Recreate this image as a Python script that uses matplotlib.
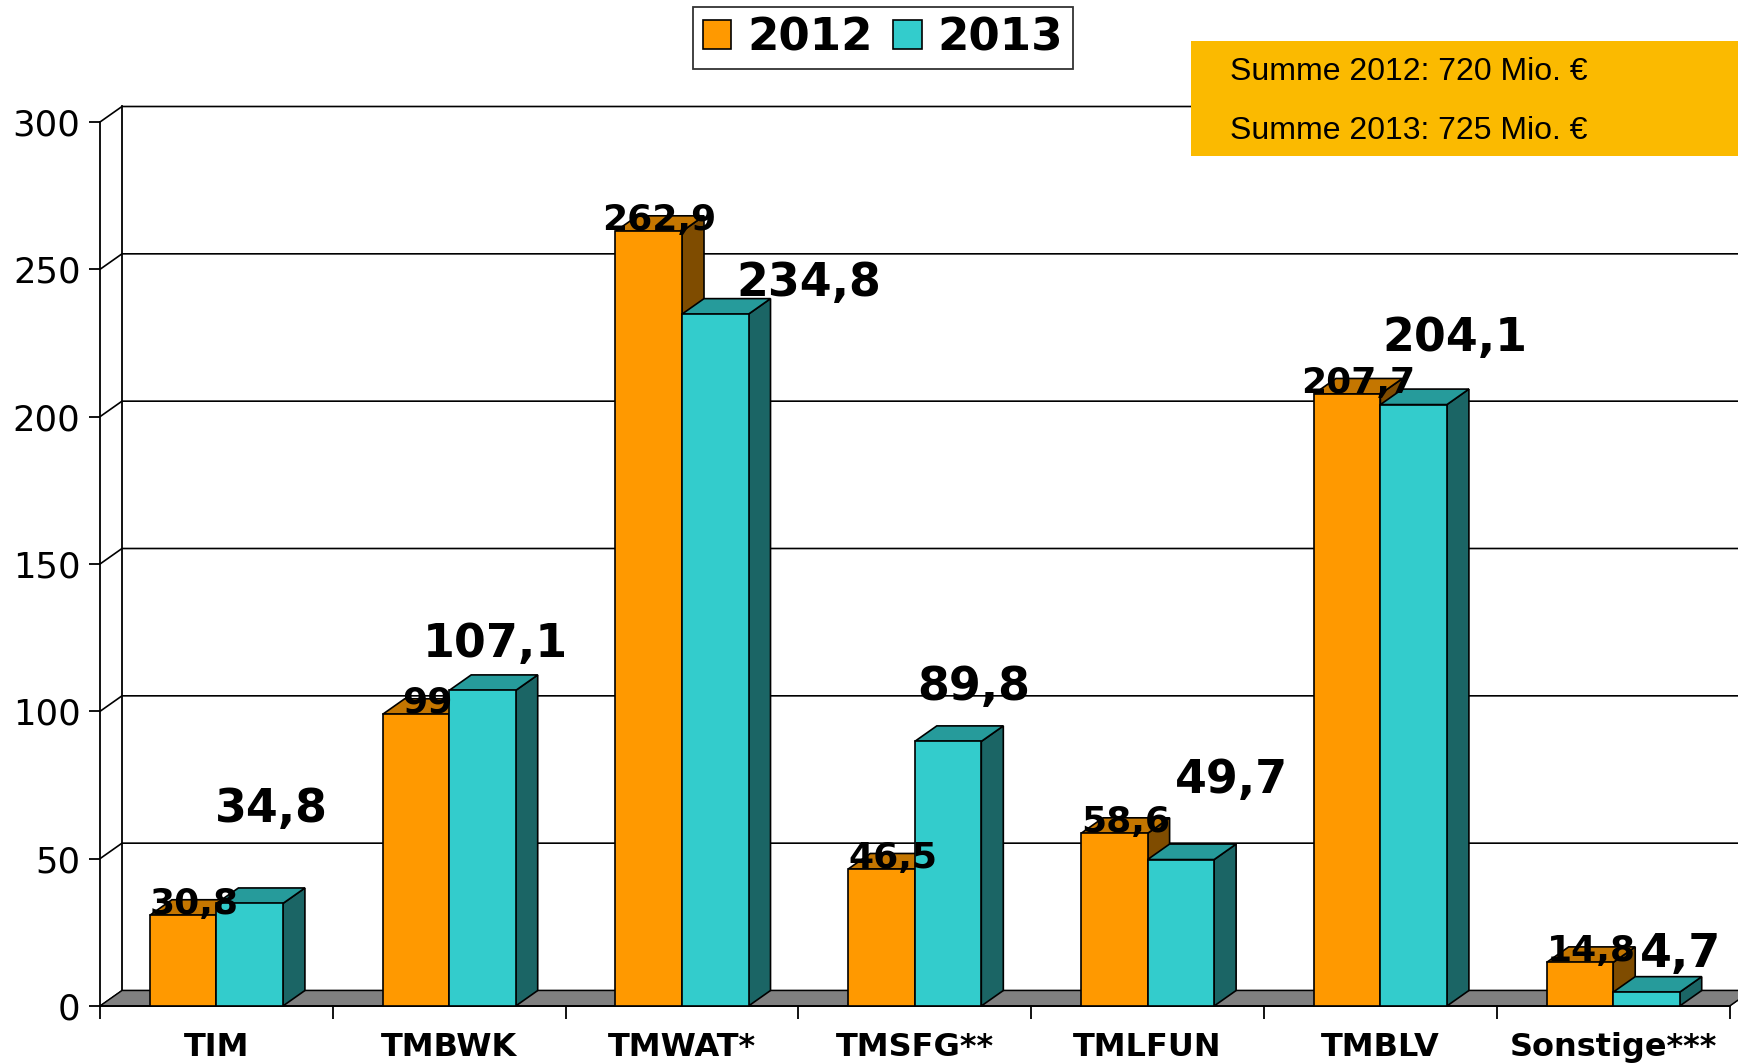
import numpy as np
import matplotlib
matplotlib.use("Agg")
import matplotlib.pyplot as plt
from matplotlib.patches import Polygon, Rectangle, Patch

# data
categories = ["TIM", "TMBWK", "TMWAT*", "TMSFG**", "TMLFUN", "TMBLV", "Sonstige***"]
v2012 = [30.8, 99, 262.9, 46.5, 58.6, 207.7, 14.8]
v2013 = [34.8, 107.1, 234.8, 89.8, 49.7, 204.1, 4.7]
lab2012 = ["30,8", "99", "262,9", "46,5", "58,6", "207,7", "14,8"]
lab2013 = ["34,8", "107,1", "234,8", "89,8", "49,7", "204,1", "4,7"]
# hand placed 2013 labels (x shift in categories, y shift in values)
lab2013_dx = [0.095, 0.057, 0.40, 0.109, 0.219, 0.176, 0.147]
lab2013_dy = [27.6, 11.3, 6.2, 14.0, 22.5, 18.1, 8.5]
summen = ["Summe 2012: 720 Mio. \u20ac", "Summe 2013: 725 Mio. \u20ac"]

c_or = ("#FF9900", "#C47600", "#7F4C00")   # front, top, side
c_cy = ("#33CCCC", "#269B9B", "#1B6565")

W, H = 1738, 1064
fig = plt.figure(figsize=(W/100, H/100), dpi=100)
# axes: left edge = front y axis, bottom = value 0, top = value 300
x0, y0, x1, y1 = 100, 1006, 1738, 122
ax = fig.add_axes([x0/W, 1 - y0/H, (x1-x0)/W, (y0-y1)/H])
cat_w = 232.8
ax.set_xlim(0, (x1-x0)/cat_w)
ax.set_ylim(0, 300)

dx = 22/cat_w          # depth offset in category units
dy = 15.5*300/(y0-y1)  # depth offset in value units
bw = 0.2857

for s in ["top", "right"]:
    ax.spines[s].set_visible(False)
ax.spines["left"].set_bounds(0, 300)
ax.spines["bottom"].set_bounds(0, 7)
ax.spines["left"].set_linewidth(1.3)
ax.spines["bottom"].set_linewidth(1.3)

ax.set_yticks(np.arange(0, 301, 50))
ax.tick_params(axis="y", length=8, width=1.3, pad=6, labelsize=25.5)
ax.set_xticks(np.arange(0, 8))
ax.set_xticklabels([])
ax.tick_params(axis="x", which="major", length=9, width=1.3)
ax.set_xticks(np.arange(7) + 0.5, minor=True)
ax.set_xticklabels(categories, minor=True, fontsize=23, fontweight="bold")
ax.tick_params(axis="x", which="minor", length=0, pad=19)

xr = ax.get_xlim()[1] + 0.2

# back wall + grid
ax.plot([dx, dx], [dy, 300 + dy], color="black", lw=1.3, clip_on=False, zorder=1)
for v in range(50, 301, 50):
    ax.plot([0, dx, xr], [v, v + dy, v + dy], color="black", lw=1.2, clip_on=False, zorder=1)

# floor
ax.add_patch(Polygon([(0, 0), (7, 0), (7 + dx, dy), (xr, dy), (xr, 0),
                      (xr, dy), (dx, dy)], closed=True,
                     facecolor="#808080", edgecolor="black", lw=1, clip_on=False, zorder=2))
ax.add_patch(Polygon([(0, 0), (7, 0), (7 + dx, dy), (dx, dy)], closed=True,
                     facecolor="#808080", edgecolor="black", lw=1, clip_on=False, zorder=2))


def bar3d(x, h, cols, z):
    front, top, side = cols
    kw = dict(edgecolor="black", lw=1.2, clip_on=False, zorder=z)
    ax.add_patch(Polygon([(x + bw, 0), (x + bw + dx, dy), (x + bw + dx, h + dy), (x + bw, h)],
                         facecolor=side, **kw))
    ax.add_patch(Polygon([(x, h), (x + dx, h + dy), (x + bw + dx, h + dy), (x + bw, h)],
                         facecolor=top, **kw))
    ax.add_patch(Rectangle((x, 0), bw, h, facecolor=front, **kw))


for i in range(len(categories)):
    c = i + 0.5
    bar3d(c - bw, v2012[i], c_or, 3)
    bar3d(c, v2013[i], c_cy, 4)

for i in range(len(categories)):
    c = i + 0.5
    ax.text(c - bw/2 + dx/2, v2012[i] + 0.5, lab2012[i], ha="center", va="baseline",
            fontsize=26, fontweight="bold", zorder=6, clip_on=False)
    ax.text(c + bw/2 + lab2013_dx[i], v2013[i] + lab2013_dy[i], lab2013[i], ha="center",
            va="baseline", fontsize=33, fontweight="bold", zorder=6, clip_on=False)

# legend
handles = [Patch(facecolor=c_or[0], edgecolor="black", lw=1.2, label="2012"),
           Patch(facecolor=c_cy[0], edgecolor="black", lw=1.2, label="2013")]
leg = fig.legend(handles=handles, loc="center", bbox_to_anchor=(883/W, 1 - 38/H), ncol=2,
                 prop=dict(size=32.5, weight="bold"), frameon=True, fancybox=False,
                 handlelength=0.63, handleheight=0.63, handletextpad=0.36, columnspacing=0.45,
                 borderpad=0.22, borderaxespad=0)
leg.get_frame().set_edgecolor("black")
leg.get_frame().set_linewidth(1.3)

# sum box
fig.patches.append(Rectangle((1191/W, 1 - 156/H), (W - 1191)/W, 115/H,
                             transform=fig.transFigure, facecolor="#FBBA00",
                             edgecolor="none", zorder=5))
for k, s in enumerate(summen):
    fig.text(1230/W, 1 - (72 + 59*k)/H, s, fontsize=23, family="Liberation Sans",
             va="center", ha="left", zorder=6)

fig.savefig("out.png", dpi=100)
